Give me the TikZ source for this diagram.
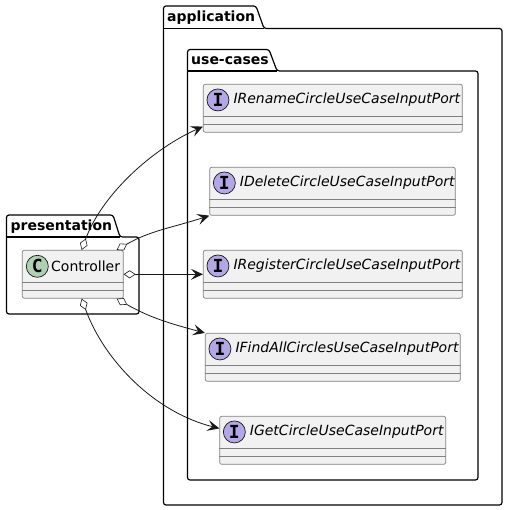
\documentclass[tikz,border=0pt]{standalone}
\usepackage{fontspec}
\setmainfont{DejaVu Sans}
\setmonofont{DejaVu Sans Mono}
\usetikzlibrary{arrows.meta}
\definecolor{boxfill}{HTML}{F1F1F1}
\definecolor{boxline}{HTML}{808080}
\definecolor{inkline}{HTML}{181818}
\definecolor{classspot}{HTML}{ADD1B2}
\definecolor{portspot}{HTML}{B4A7E5}
\tikzset{
  pkg/.style={draw=black, line width=1.2pt, rounded corners=2.5pt},
  pkglabel/.style={font=\fontsize{14}{16}\selectfont\bfseries, anchor=base west, inner sep=0pt},
  umlbox/.style={draw=boxline, fill=boxfill, line width=0.7pt, rounded corners=2pt, inner sep=0pt},
  spot/.style={circle, draw=inkline, line width=0.7pt, minimum size=22pt, inner sep=0pt,
    font=\fontsize{18}{18}\selectfont\ttfamily\bfseries},
  has/.style={draw=inkline, line width=0.8pt,
    {Diamond[length=12pt, width=8pt, fill=white, line width=0.6pt]}-{Stealth[length=12pt, width=11pt, inset=5pt]}}
}
\begin{document}
\begin{tikzpicture}[x=1pt, y=-1pt]
  \useasboundingbox (0,0) rectangle (508,510);
  % Draw the packages
  \draw[pkg] (163.5,28.5) -- (163.5,6) -- (256,6) -- (264,28.5) -- (502,28.5) -- (502,505) -- (163.5,505) -- cycle;
  \draw[pkg] (163.5,28.5) -- (264,28.5);
  \node[pkglabel] (application) at (167,21.5) {application};
  \draw[pkg] (187.5,71) -- (187.5,49.5) -- (269,49.5) -- (277,71) -- (478,71) -- (478,480) -- (187.5,480) -- cycle;
  \draw[pkg] (187.5,71) -- (277,71);
  \node[pkglabel] (usecases) at (191,64.5) {use-cases};
  \draw[pkg] (6.5,237) -- (6.5,215) -- (113,215) -- (120,237) -- (139,237) -- (139,314) -- (6.5,314) -- cycle;
  \draw[pkg] (6.5,237) -- (120,237);
  \node[pkglabel] (presentation) at (10.5,230) {presentation};

  % Draw the class
  \node[umlbox, minimum width=101pt, minimum height=48pt] (controller) at (72.8,274.3) {};
  \draw[boxline, line width=0.7pt] ([yshift=-32pt]controller.north west) -- ([yshift=-32pt]controller.north east);
  \draw[boxline, line width=0.7pt] ([yshift=-40pt]controller.north west) -- ([yshift=-40pt]controller.north east);
  \node[spot, fill=classspot] (controllerspot) at (37.3,266.3) {C};
  \node[anchor=west, inner sep=0pt, font=\fontsize{14}{16}\selectfont] (controllerlabel) at (51,266.3) {Controller};

  % Draw the ports
  \foreach \portname/\cx/\cy/\boxw/\portlabel in {
      rename/332.8/108.3/259/IRenameCircleUseCaseInputPort,
      delete/332.5/191.3/245.6/IDeleteCircleUseCaseInputPort,
      register/332.8/274.3/259/IRegisterCircleUseCaseInputPort,
      findall/332.8/357.3/255/IFindAllCirclesUseCaseInputPort,
      getcircle/332.7/440.3/226/IGetCircleUseCaseInputPort} {
    \node[umlbox, minimum width=\boxw pt, minimum height=48pt] (\portname) at (\cx,\cy) {};
    \draw[boxline, line width=0.7pt] ([yshift=-32pt]\portname.north west) -- ([yshift=-32pt]\portname.north east);
    \draw[boxline, line width=0.7pt] ([yshift=-40pt]\portname.north west) -- ([yshift=-40pt]\portname.north east);
    \node[spot, fill=portspot, anchor=center] (\portname spot) at ([xshift=15pt, yshift=-16pt]\portname.north west) {I};
    \node[anchor=west, inner sep=0pt, font=\fontsize{14}{16}\selectfont\itshape] (\portname label)
      at ([xshift=4pt]\portname spot.east) {\portlabel};
  }

  % Draw the connectors
  \draw[has] (controller.70) to[out=70, in=204, looseness=0.85] (rename.188);
  \draw[has] (controller.29) to[out=30, in=198] (delete.south west);
  \draw[has] (controller.east) -- (register.west);
  \draw[has] (controller.-29) to[out=-30, in=165] (findall.north west);
  \draw[has] (controller.-70) to[out=-70, in=166, looseness=0.9] (getcircle.174);
\end{tikzpicture}
\end{document}
